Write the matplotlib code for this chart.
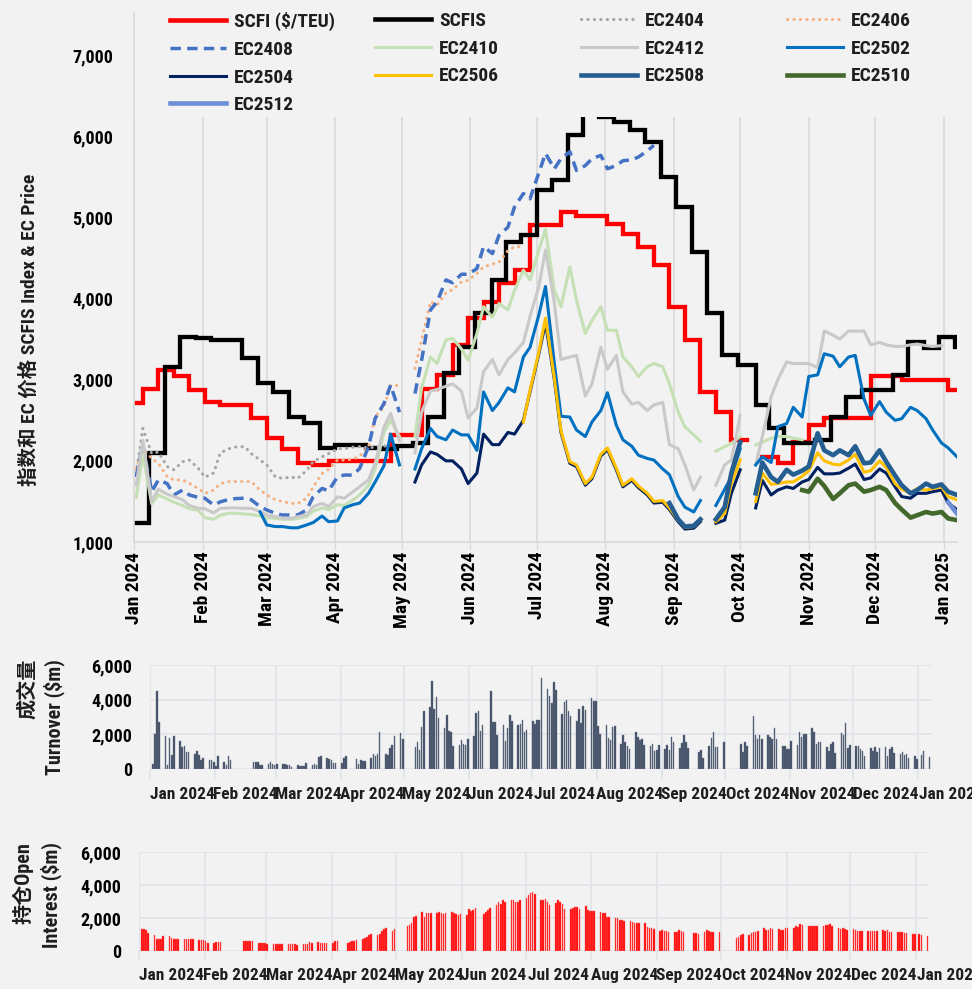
import numpy as np
import pandas as pd
import matplotlib
matplotlib.use("Agg")
import matplotlib.pyplot as plt
import matplotlib.font_manager as fm
from matplotlib.lines import Line2D
from matplotlib.legend import Legend
from matplotlib.ticker import FuncFormatter

# pick a narrow Latin face if one is installed, else plain Liberation Sans a bit smaller
avail = {f.name for f in fm.fontManager.ttflist}
narrow = next((n for n in ['Liberation Sans Narrow', 'Roboto Condensed', 'Noto Sans Condensed',
                           'DejaVu Sans Condensed', 'Open Sans Condensed', 'Arial Narrow'] if n in avail), None)
stretch = 'normal'
if narrow is None:
    cond = sorted({f.name for f in fm.fontManager.ttflist
                   if f.stretch in ('condensed', 'semi-condensed', 'extra-condensed')
                   and 'CJK' not in f.name and 'Mono' not in f.name})
    if cond:
        narrow, stretch = cond[0], 'condensed'
if narrow:
    LATIN, k = narrow, 1.0
else:
    LATIN, k = 'Liberation Sans', 0.84

FS_LEG = 14 * k       # legend
FS_TICK = 13 * k      # y tick labels
FS_XTOP = 14 * k      # rotated month labels
FS_BAR = 12.5 * k     # month labels under the bar panels
FS_YLAB = 14 * k      # main y label
FS_BLAB = 14.5 * k    # bar panel y labels

plt.rcParams['font.family'] = [LATIN, 'Noto Sans CJK SC', 'DejaVu Sans']
plt.rcParams['font.stretch'] = stretch
plt.rcParams['font.weight'] = 'bold'
plt.rcParams['text.color'] = '#1e1e1e'

BG = '#f2f2f2'
GRID = '#d9d9d9'
GRID2 = '#e1e5eb'
N = None

# ---------------- data ----------------
# SCFI, weekly (Friday), $/TEU
scfi_dates = ['2024-01-01', '2024-01-05', '2024-01-12', '2024-01-19', '2024-01-26', '2024-02-02',
              '2024-02-09', '2024-02-23', '2024-03-01', '2024-03-08', '2024-03-15', '2024-03-22',
              '2024-03-29', '2024-04-26', '2024-05-10', '2024-05-17', '2024-05-24', '2024-05-31',
              '2024-06-07', '2024-06-14', '2024-06-21', '2024-06-28', '2024-07-12', '2024-07-19',
              '2024-08-02', '2024-08-09', '2024-08-16', '2024-08-23', '2024-08-30', '2024-09-06',
              '2024-09-13', '2024-09-20', '2024-09-27', '2024-10-04', '2024-10-11', '2024-10-18',
              '2024-10-25', '2024-11-01', '2024-11-08', '2024-11-29', '2024-12-13', '2025-01-03']
scfi_vals = [2708, 2880, 3118, 3044, 2872, 2728,
             2690, 2523, 2277, 2141, 1977, 1948,
             2002, 2318, 2880, 3057, 3426, 3755,
             3960, 4194, 4350, 4904, 5068, 5015,
             4925, 4802, 4637, 4411, 3898, 3488,
             2851, 2605, 2256, N, 2051, 1970,
             2235, 2441, 2530, 3050, 2995, 2870]

# SCFIS, weekly (Monday)
scfis_dates = ['2024-01-01', '2024-01-08', '2024-01-15', '2024-01-22', '2024-01-29', '2024-02-05',
               '2024-02-19', '2024-02-26', '2024-03-04', '2024-03-11', '2024-03-18', '2024-03-25',
               '2024-04-01', '2024-04-08', '2024-04-15', '2024-04-22', '2024-04-29', '2024-05-06',
               '2024-05-13', '2024-05-20', '2024-05-27', '2024-06-03', '2024-06-11', '2024-06-17',
               '2024-06-24', '2024-07-01', '2024-07-08', '2024-07-15', '2024-07-22', '2024-07-29',
               '2024-08-05', '2024-08-12', '2024-08-19', '2024-08-26', '2024-09-02', '2024-09-09',
               '2024-09-16', '2024-09-23', '2024-09-30', '2024-10-08', '2024-10-14', '2024-10-21',
               '2024-10-28', '2024-11-04', '2024-11-11', '2024-11-18', '2024-11-25', '2024-12-02',
               '2024-12-09', '2024-12-16', '2024-12-23', '2024-12-30', '2025-01-06']
scfis_vals = [1230, 2100, 3159, 3521, 3510, 3488,
              3262, 2954, 2851, 2543, 2462, 2154,
              2195, 2195, 2160, 2141, 2182, 2215,
              2543, 3077, 3405, 3824, 4227, 4698,
              4780, 5343, 5458, 6012, 6400, 6234,
              6180, 6074, 5930, 5498, 5129, 4575,
              3817, 3303, 3180, 2687, 2400, 2215,
              2215, 2256, 2543, 2789, 2872, 2872,
              3057, 3467, 3385, 3529, 3405]

# EC futures: (Tuesday, Friday) closes per week, week 0 = 2 Jan 2024
ec2404 = (0, [(1850, 2400), (2090, 2110), (1930, 1890), (1990, 2010), (1910, 1800), (1850, 2100),
              (2150, 2170), (2175, 2090), (2010, 1950), (1800, 1785), (1800, 1785), (1880, 1990),
              (2050, 2090), (2150, 2150), (2170, 2175), (2160, 2170), (2180, 2200)])
ec2406 = (0, [(1900, 2150), (2030, 1970), (1805, 1765), (1765, 1722), (1660, 1600), (1640, 1720),
              (1745, 1745), (1745, 1745), (1640, 1580), (1520, 1500), (1475, 1475), (1540, 1680),
              (1845, 1895), (2010, 2010), (2020, 2060), (2175, 2545), (2665, 2930), (2930, N),
              (3140, 3490), (3960, 3920), (4070, 4110), (4205, 4225), (4310, 4390), (4425, 4450),
              (4590, 4640), (4640, N)])
ec2408 = (0, [(1800, 2200), (1620, 1765), (1720, 1580), (1640, 1580), (1550, 1540), (1455, 1495),
              (1525, 1535), (1540, 1520), (1435, 1395), (1353, 1333), (1333, 1333), (1395, 1558),
              (1660, 1632), (1805, 1825), (1825, 1907), (2174, 2523), (2708, 2933), (2600, N),
              (2830, 3240), (3860, 3960), (4230, 4195), (4300, 4300), (4370, 4640), (4555, 4780),
              (4880, 5130), (5295, 5230), (5550, 5790), (5600, 5725), (5810, 5580), (5640, 5725),
              (5765, 5600), (5640, 5700), (5710, 5745), (5820, 5890)])
ec2410 = (0, [(1550, 2080), (1470, 1580), (1530, 1490), (1450, 1410), (1390, 1300), (1280, 1330),
              (1355, 1355), (1345, 1340), (1320, 1300), (1290, 1280), (1280, 1290), (1310, 1380),
              (1420, 1400), (1460, 1450), (1520, 1580), (1700, 1900), (2350, 2500), (2300, N),
              (2300, 2900), (3280, 3200), (3490, 3510), (3380, 3240), (3570, 3900), (3770, 3940),
              (3860, 4100), (4350, 4230), (4600, 4850), (4100, 3900), (4390, 3980), (3570, 3730),
              (3900, 3610), (3610, 3280), (3160, 3040), (3160, 3200), (3160, 2950), (2600, 2420),
              (2320, 2240), (N, 2120), (2175, 2215), (2300, N), (2195, 2230), (2280, 2300),
              (2300, 2280), (2260, N)])
ec2412 = (0, [(1700, 2250), (1500, 1650), (1590, 1560), (1520, 1450), (1415, 1410), (1360, 1415),
              (1420, 1420), (1415, 1415), (1375, 1333), (1312, 1292), (1292, 1312), (1333, 1435),
              (1476, 1435), (1558, 1538), (1620, 1681), (1765, 1970), (2420, 2585), (2250, N),
              (2100, 2600), (2860, 2880), (2920, 2950), (2860, 2530), (2650, 3100), (3250, 3060),
              (3250, 3330), (3460, 3780), (4150, 4600), (3950, 3250), (3280, 3300), (2800, 2950),
              (3400, 3130), (3300, 2850), (2700, 2720), (2620, 2690), (2720, 2200), (2150, 1950),
              (1640, 1800), (N, 1700), (1950, 2010), (2560, N), (1950, 2300), (2790, 3000),
              (3220, 3200), (3200, 3200), (3150, 3600), (3550, 3500), (3600, 3600), (3600, 3430),
              (3460, 3430), (3410, 3410), (3430, 3440), (3420, 3410), (3420, N)])
ec2502 = (8, [(1370, 1210), (1190, 1190), (1175, 1175), (1210, 1240), (1320, 1250), (1260, 1420),
              (1460, 1480), (1600, 1740), (1940, 2330), (1950, N), (1900, 2150), (2400, 2300),
              (2260, 2380), (2320, 2320), (2130, 2850), (2620, 2720), (2900, 2850), (3280, 3400),
              (3800, 4150), (3200, 2550), (2540, 2380), (2300, 2480), (2620, 2840), (2440, 2260),
              (2180, 2070), (2030, 2010), (1900, 1830), (1560, 1430), (1370, 1510), (N, 1450),
              (1650, 1800), (2150, N), (1950, 2050), (1980, 2420), (2460, 2660), (2540, 3040),
              (3060, 3320), (3290, 3160), (3280, 3300), (2760, 2560), (2730, 2600), (2500, 2520),
              (2660, 2620), (2520, 2380), (2220, 2160), (2050, N)])
ec2504 = (18, [(1740, 1950), (2110, 2080), (2000, 2000), (1900, 1720), (1850, 2330), (2200, 2200),
               (2350, 2330), (2500, 2850), (3320, 3700), (3000, 2350), (1970, 1930), (1700, 1780),
               (2060, 2140), (1890, 1680), (1760, 1670), (1580, 1480), (1490, 1400), (1250, 1160),
               (1170, 1250), (N, 1230), (1270, 1600), (1890, N), (1420, 1760), (1580, 1640),
               (1680, 1660), (1740, 1770), (1920, 1840), (1840, 1850), (1910, 1960), (1770, 1790),
               (1900, 1850), (1680, 1560), (1540, 1600), (1600, 1620), (1640, 1480), (1400, N)])
ec2506 = (25, [(2480, 2870), (3340, 3760), (3020, 2370), (1990, 1950), (1720, 1800), (2080, 2160),
               (1910, 1700), (1780, 1690), (1600, 1500), (1510, 1420), (1270, 1180), (1190, 1270),
               (N, 1250), (1350, 1720), (2010, N), (1500, 1850), (1710, 1720), (1740, 1740),
               (1810, 1880), (2100, 2000), (1960, 1950), (2010, 2080), (1860, 1880), (2000, 1920),
               (1720, 1650), (1600, 1660), (1640, 1660), (1680, 1560), (1520, N)])
ec2508 = (34, [(N, 1480), (1280, 1190), (1200, 1280), (N, 1280), (1430, 1850), (2230, N),
               (1600, 1980), (1800, 1740), (1890, 1830), (1880, 1930), (2340, 2130), (2070, 2130),
               (2070, 2180), (1970, 1980), (2130, 1990), (1820, 1700), (1600, 1640), (1720, 1680),
               (1710, 1620), (1580, N)])
ec2510 = (43, [(1640, 1620), (1780, 1690), (1530, 1600), (1700, 1720), (1620, 1640), (1680, 1640),
               (1480, 1400), (1300, 1330), (1370, 1350), (1370, 1290), (1270, N)])
ec2512 = (52, [(N, 1490), (1350, N)])

# daily turnover ($m) and open interest ($m), one row per trading week
turnover_weeks = [
    [300, 2000, 4500, 2700], [1900, 230, 1760, 820, 1900], [1630, 1280, 1340, 960, 960],
    [880, 1020, 820, 500, 610], [500, 500, 380, 190, 770], [400, 250, 750, 540],
    [380, 380, 400, 250, 210], [310, 380, 270, 230, 310], [290, 270, 230, 210, 120],
    [230, 170, 150, 190, 350], [250, 290, 230, 690, 770], [650, 590, 540, 360, 330],
    [360, 630, 750], [590, 310, 500, 480, 480], [610, 840, 730, 860, 2150],
    [860, 820, 1210, 1380, 1900], [2090, 1750], [1250, 1570, 1110, 2400, 3360],
    [3550, 5060, 3470, 4140, 2970], [2340, 3110, 2190, 2130, 1320], [1380, 1690, 1440, 1400, 1730],
    [1920, 3220, 3340, 2220, 2550], [4520, 2740, 2700, 1970], [2550, 1590, 2380, 3110, 2780],
    [2530, 2570, 2820, 2150, 2260], [2780, 2610, 2820, 2840, 5230], [4600, 4220, 3830, 5000, 4540],
    [3180, 3870, 3970, 3340, 3070], [2780, 3450, 2670, 3660, 3410], [4080, 3930, 3930, 2470, 2030],
    [2550, 1780, 1650, 2420, 2490], [1460, 1960, 1530, 1340, 1170], [2150, 1820, 1650, 1750, 1380],
    [1340, 1420, 1020, 1110, 1400], [1150, 1400, 1110, 1840, 1570], [1210, 1510, 1970, 1570, 1190],
    [1000, 1090, 650], [1340, 1780, 2150, 1250, 1280], [1570], [1440, 980, 1570, 1300],
    [3030, 1970, 1750, 1970, 1710], [1960, 1840, 1730, 2360, 1750], [1340, 1340, 1150, 1170, 1630],
    [1400, 2150, 1840, 2010, 2010], [2380, 2130, 1460, 1550, 1530], [1270, 1050, 1420, 1530, 920],
    [2070, 1990, 2630, 1190, 1400], [1340, 1300, 1150, 1020, 770], [1230, 1050, 1250, 960, 1190],
    [1270, 770, 1150, 1270, 920], [880, 1000, 820, 860, 650], [750, 590, 810, 1040], [690]]

oi_weeks = [
    [1310, 1310, 1250, 1090], [990, 750, 750, 750, 930], [890, 810, 750, 730, 710],
    [730, 710, 710, 710, 710], [690, 690, 650, 610, 490], [510, 530, 570, 570],
    [610, 590, 590, 590, 590], [490, 490, 490, 470, 400], [400, 400, 400, 400, 400],
    [400, 400, 400, 400, 360], [400, 400, 440, 530, 510], [530, 510, 490, 470, 470],
    [470, 610, 590], [510, 530, 630, 610, 650], [750, 790, 850, 950, 1010],
    [970, 1010, 1190, 1310, 1410], [1190, 1310], [1500, 1600, 1680, 2040, 2120],
    [2360, 2060, 2320, 2280, 2280], [2320, 2380, 2280, 2240, 2280], [2360, 2280, 2240, 2160, 2240],
    [2180, 2530, 2420, 2510, 2610], [2260, 2340, 2460, 2630], [2810, 2950, 2870, 3110, 2990],
    [3110, 3070, 2990, 2970, 3070], [3210, 3410, 3500, 3580, 3430], [3110, 3110, 3170, 2950, 2770],
    [2890, 3110, 2970, 2830, 2530], [2570, 2610, 2690, 2670, 2550], [2730, 2510, 2440, 2440, 2440],
    [2380, 2320, 2320, 2060, 2040], [2000, 2000, 1900, 1860, 1820], [1800, 1740, 1720, 1720, 1680],
    [1680, 1430, 1390, 1390, 1330], [1230, 1290, 1210, 1190, 1130], [1150, 1170, 1250, 1190, 1130],
    [1070, 1070, 1010], [1150, 1250, 1210, 1150, 1130], [1170], [790, 850, 950, 1030],
    [990, 1110, 1130, 1170, 1210], [1390, 1250, 1250, 1370, 1330], [1350, 1270, 1250, 1390, 1370],
    [1390, 1520, 1480, 1620, 1600], [1540, 1520, 1500, 1500, 1540], [1540, 1560, 1600, 1640, 1540],
    [1390, 1350, 1410, 1310, 1290], [1310, 1250, 1230, 1230, 1190], [1230, 1190, 1190, 1190, 1230],
    [1250, 1210, 1250, 1150, 1130], [1170, 1130, 1130, 1090, 1070], [1050, 1050, 1030, 970], [930]]

holidays = ['2024-02-09', '2024-02-12', '2024-02-13', '2024-02-14', '2024-02-15', '2024-02-16',
            '2024-04-04', '2024-04-05', '2024-05-01', '2024-05-02', '2024-05-03', '2024-06-10',
            '2024-09-16', '2024-09-17', '2024-10-01', '2024-10-02', '2024-10-03', '2024-10-04',
            '2024-10-07', '2025-01-01']

# ---------------- helpers ----------------
X0, X1 = pd.Timestamp('2024-01-01'), pd.Timestamp('2025-01-07')
tue = pd.date_range('2024-01-02', periods=54, freq='7D')
grid = pd.DatetimeIndex(np.ravel(np.column_stack([tue.values, (tue + pd.Timedelta(days=3)).values])))


def weekly(series):
    start, pairs = series
    vals = [np.nan] * (2 * start)
    for a, b in pairs:
        vals += [a, b]
    vals += [np.nan] * (len(grid) - len(vals))
    return np.array(vals, dtype=float)


trade_days = pd.bdate_range('2024-01-02', '2025-01-06').difference(pd.DatetimeIndex(holidays))
turnover = np.concatenate(turnover_weeks)
open_int = np.concatenate(oi_weeks)

months = pd.date_range('2024-01-01', '2025-01-01', freq='MS')
m_all = pd.date_range('2024-01-01', '2025-02-01', freq='MS')
mids = m_all[:-1] + (m_all[1:] - m_all[:-1]) / 2
fmt = FuncFormatter(lambda v, p: f'{v:,.0f}')

# ---------------- figure ----------------
fig = plt.figure(figsize=(9.72, 9.89), dpi=100)
fig.patch.set_facecolor(BG)

# main price chart
ax = fig.add_axes([134 / 972, 1 - 542 / 989, 823 / 972, 529 / 989])
ax.set_facecolor(BG)

styles = [
    ('EC2404', ec2404, dict(color='#a5a5a5', lw=2.2, ls=(0, (0.1, 2.0)), dash_capstyle='round')),
    ('EC2406', ec2406, dict(color='#f4b183', lw=2.2, ls=(0, (0.1, 2.0)), dash_capstyle='round')),
    ('EC2408', ec2408, dict(color='#4472c4', lw=2.5, ls=(0, (3.0, 1.8)))),
    ('EC2410', ec2410, dict(color='#c5e0b4', lw=2.2)),
    ('EC2412', ec2412, dict(color='#c9c9c9', lw=2.2)),
    ('EC2502', ec2502, dict(color='#0070c0', lw=2.2)),
    ('EC2504', ec2504, dict(color='#002060', lw=2.2)),
    ('EC2506', ec2506, dict(color='#ffc000', lw=2.2)),
    ('EC2508', ec2508, dict(color='#255e91', lw=3.3)),
    ('EC2510', ec2510, dict(color='#43682b', lw=3.3)),
    ('EC2512', ec2512, dict(color='#6d8fd6', lw=3.3)),
]

sx = pd.to_datetime(scfi_dates).append(pd.DatetimeIndex([X1]))
sy = np.array(scfi_vals + [scfi_vals[-1]], dtype=float)
ax.step(sx, sy, where='post', color='#ff0000', lw=3.1, zorder=3, solid_joinstyle='miter')
bx = pd.to_datetime(scfis_dates).append(pd.DatetimeIndex([X1]))
by = np.array(scfis_vals + [scfis_vals[-1]], dtype=float)
ax.step(bx, by, where='post', color='#000000', lw=3.1, zorder=4, solid_joinstyle='miter')

handles = {'SCFI ($/TEU)': Line2D([], [], color='#ff0000', lw=3.3),
           'SCFIS': Line2D([], [], color='#000000', lw=3.3)}
for i, (name, series, st) in enumerate(styles):
    ax.plot(grid, weekly(series), zorder=5 + i, solid_joinstyle='round', **st)
    handles[name] = Line2D([], [], **st)

ax.set_xlim(X0, X1)
ax.set_ylim(1000, 7520)
ax.set_yticks(range(1000, 8000, 1000))
ax.yaxis.set_major_formatter(fmt)
ax.tick_params(axis='y', length=0, pad=15, labelsize=FS_TICK)
ax.set_xticks(months)
ax.set_xticklabels([m.strftime('%b %Y') for m in months], rotation=90)
ax.tick_params(axis='x', length=5, width=1, color=GRID, pad=2, labelsize=FS_XTOP)
ax.grid(axis='x', color=GRID, lw=1.2)
ax.set_axisbelow(True)
for s in ('top', 'right'):
    ax.spines[s].set_visible(False)
for s in ('left', 'bottom'):
    ax.spines[s].set_color(GRID)
    ax.spines[s].set_linewidth(1.2)
# legend area background
ax.axhspan(6234, 7600, color=BG, lw=0, zorder=40)
ax.spines['left'].set_zorder(41)

legend_cols = [['SCFI ($/TEU)', 'EC2408', 'EC2504', 'EC2512'],
               ['SCFIS', 'EC2410', 'EC2506'],
               ['EC2404', 'EC2412', 'EC2508'],
               ['EC2406', 'EC2502', 'EC2510']]
fs_px = FS_LEG * 100 / 72
for xs, names in zip([170, 375, 581, 787], legend_cols):
    leg = Legend(ax, [handles[n] for n in names], names, loc='upper left',
                 bbox_to_anchor=(xs / 972, 1 - 12 / 989), bbox_transform=fig.transFigure,
                 frameon=False, handlelength=56 / fs_px, handletextpad=8 / fs_px,
                 labelspacing=0.5, borderpad=0, borderaxespad=0, fontsize=FS_LEG)
    leg.set_zorder(50)
    ax.add_artist(leg)

fig.text(29 / 972, 1 - 330 / 989, '指数和 EC 价格 SCFIS Index & EC Price', rotation=90,
         ha='center', va='center', fontsize=FS_YLAB)


def bar_panel(rect, values, color, edge, label, lab_x, lab_top):
    a = fig.add_axes(rect)
    a.set_facecolor(BG)
    a.bar(trade_days, values, width=0.75, align='edge', color=color, edgecolor=edge, lw=0.3)
    a.set_xlim(X0, X1)
    a.set_ylim(0, 6000)
    a.set_yticks([0, 2000, 4000, 6000])
    a.yaxis.set_major_formatter(fmt)
    a.set_xticks(months)
    a.grid(True, color=GRID2, lw=1.3)
    a.set_axisbelow(True)
    for s in a.spines.values():
        s.set_visible(False)
    a.tick_params(axis='x', length=7, width=1.3, color=GRID2, labelbottom=False)
    a.tick_params(axis='y', length=0, pad=13, labelsize=FS_TICK)
    for m, d in zip(mids, m_all[:-1]):
        a.text(m, -0.17, d.strftime('%b %Y'), transform=a.get_xaxis_transform(),
               ha='center', va='top', fontsize=FS_BAR, clip_on=False)
    fig.text(lab_x / 972, 1 - lab_top / 989, label, rotation=90, ha='center', va='top',
             multialignment='right', linespacing=1.4, fontsize=FS_BLAB)
    return a


bar_panel([150 / 972, 1 - 769 / 989, 781 / 972, 104 / 989], turnover, '#3f4d63', '#6b778a',
          '成交量\nTurnover ($m)', 41, 659)
bar_panel([139 / 972, 1 - 951 / 989, 790 / 972, 99 / 989], open_int, '#ff0000', '#ff6b6b',
          '持仓Open\nInterest ($m)', 37, 842)

fig.savefig('out.png', dpi=100, facecolor=BG)
